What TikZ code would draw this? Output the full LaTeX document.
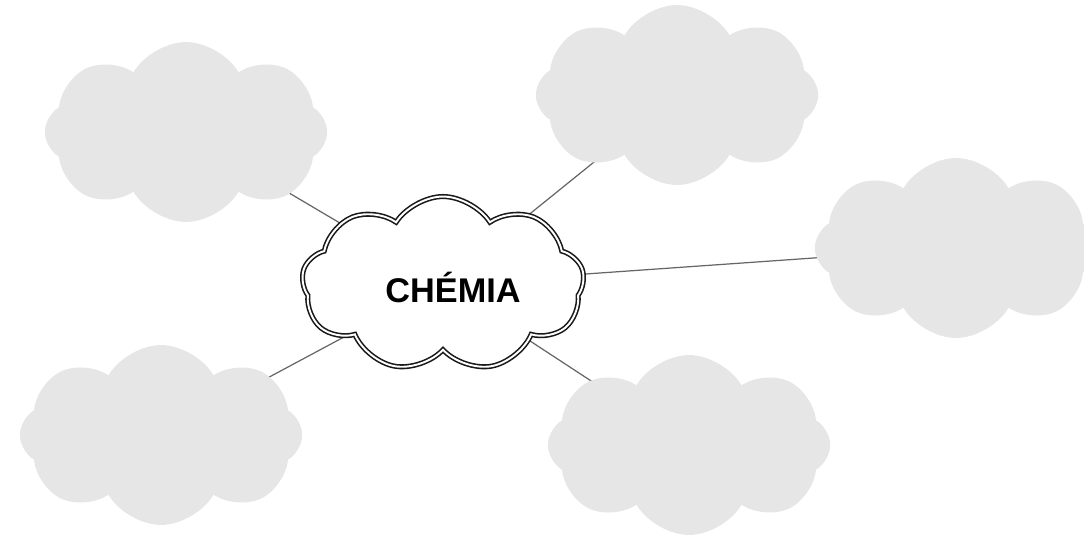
\documentclass[tikz,border=0pt]{standalone}
\usepackage{fontspec}
\setmainfont{Liberation Sans}
\usetikzlibrary{shapes.symbols,backgrounds}
\tikzset{
  puff/.style={cloud, cloud puffs=8, cloud puff arc=120, aspect=1.6, inner sep=0pt,
    minimum width=5.65cm, minimum height=3.6cm},
  greycloud/.style={puff, fill=cloudgrey, draw=none},
  maincloud/.style={puff, cloud puffs=9, cloud puff arc=115, minimum height=3.5cm, fill=white, draw=black!90, line width=0.9pt, double=white, double distance=1.1pt},
  title/.style={font=\bfseries\fontsize{19.5}{21}\selectfont, inner sep=0pt},
  link/.style={draw=black!60, line width=0.7pt}
}
\definecolor{cloudgrey}{HTML}{E6E6E6}
\begin{document}
\begin{tikzpicture}[x=0.02cm,y=-0.02cm]
\useasboundingbox (0,0) rectangle (1084,537);
\node[maincloud] (c) at (443,284) {};
\node[title] (ct) at (453,287) {CH\'EMIA};
\node[greycloud] (tl) at (186,132) {};
\node[greycloud] (tr) at (677,95) {};
\node[greycloud] (r) at (956,248) {};
\node[greycloud] (bl) at (161,435) {};
\node[greycloud] (br) at (689,445) {};
\begin{scope}[on background layer]
\draw[link] (c.center) -- (tl.center);
\draw[link] (c.center) -- (tr.center);
\draw[link] (c.center) -- (r.center);
\draw[link] (c.center) -- (bl.center);
\draw[link] (c.center) -- (br.center);
\end{scope}
\end{tikzpicture}
\end{document}
